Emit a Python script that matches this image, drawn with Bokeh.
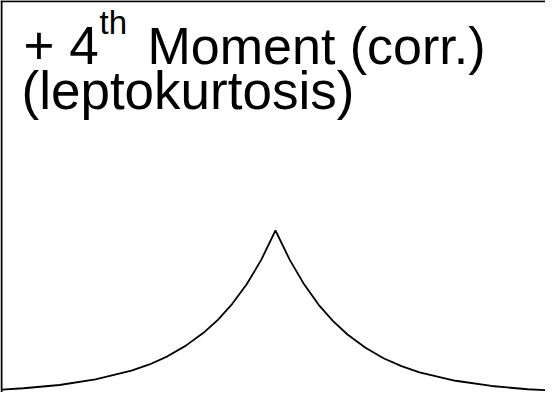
from bokeh.plotting import figure
from bokeh.models import Range1d, Span, Label
from bokeh.embed import file_html
from bokeh.resources import INLINE

# Curve (standardised x, density-like y)
x_vals = [-3.8, -3.5, -3.0, -2.5, -2.0, -1.75, -1.5, -1.25, -1.0, -0.8, -0.6, -0.4, -0.2, 0.0,
          0.2, 0.4, 0.6, 0.8, 1.0, 1.25, 1.5, 1.75, 2.0, 2.5, 3.0, 3.5, 3.75]
y_vals = [0.012, 0.016, 0.026, 0.043, 0.070, 0.089, 0.114, 0.146, 0.186, 0.226, 0.275, 0.335, 0.409, 0.500,
          0.409, 0.334, 0.272, 0.222, 0.181, 0.140, 0.108, 0.084, 0.065, 0.039, 0.023, 0.013, 0.010]

title_line1 = ["+ 4", "th", "Moment (corr.)"]
title_line2 = "(leptokurtosis)"

x_start, x_end = -3.819, 3.75
y_start, y_end = 0.003, 1.2055

p = figure(width=545, height=392, output_backend="svg", toolbar_location=None,
           x_range=Range1d(x_start, x_end), y_range=Range1d(y_start, y_end),
           min_border=0, outline_line_color=None, background_fill_color="white",
           border_fill_color="white")
p.axis.visible = False
p.grid.visible = False

p.line(x_vals, y_vals, line_color="black", line_width=1.8)

p.add_layout(Span(location=x_start + 0.014, dimension="height", line_color="black", line_width=2))
p.add_layout(Span(location=y_end - 0.002, dimension="width", line_color="black", line_width=2))

font = "Liberation Sans"
p.add_layout(Label(x=23, y=347, x_units="screen", y_units="screen", text=title_line1[0],
                   text_font=font, text_font_size="53px", text_baseline="alphabetic", text_color="black"))
p.add_layout(Label(x=99, y=370, x_units="screen", y_units="screen", text=title_line1[1],
                   text_font=font, text_font_size="33px", text_baseline="alphabetic", text_color="black"))
p.add_layout(Label(x=147, y=347, x_units="screen", y_units="screen", text=title_line1[2],
                   text_font=font, text_font_size="52px", text_baseline="alphabetic", text_color="black"))
p.add_layout(Label(x=21, y=302, x_units="screen", y_units="screen", text=title_line2,
                   text_font=font, text_font_size="53px", text_baseline="alphabetic", text_color="black"))

open("out.html", "w").write(file_html(p, INLINE))
